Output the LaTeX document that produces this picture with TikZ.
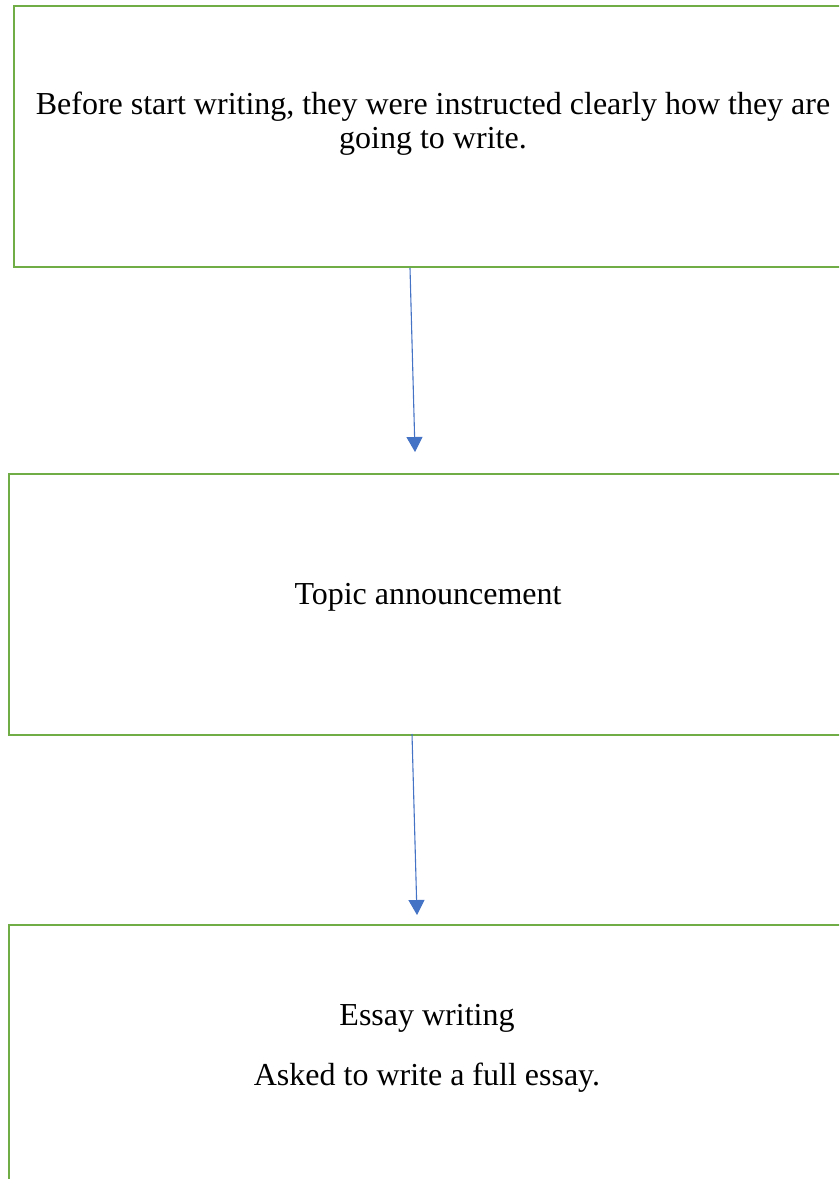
\documentclass[tikz,border=0pt]{standalone}
\usepackage{fontspec}
\setmainfont{Liberation Serif}
\usetikzlibrary{arrows.meta}
\definecolor{boxgreen}{HTML}{70AD47}
\definecolor{arrowblue}{HTML}{4472C4}
\begin{document}
\begin{tikzpicture}[x=1pt,y=-1pt,
  stepbox/.style={draw=boxgreen, line width=2.6pt},
  label/.style={font=\fontsize{32}{34}\selectfont, inner sep=0pt, align=center},
  conn/.style={draw=arrowblue, line width=1.1pt, -{Triangle[width=16pt,length=15pt]}}]
\useasboundingbox (0,0) rectangle (839,1179);
\begin{scope}
\clip (0,0) rectangle (839,1179);
\draw[stepbox] (14,6) rectangle (860,267);
\draw[stepbox] (9,474) rectangle (860,735);
\draw[stepbox] (9,925) rectangle (860,1200);
\end{scope}
\node[label] (t1) at (433,124) {Before start writing, they were instructed clearly how they are\\going to write.};
\node[label] (t2) at (428,597) {Topic announcement};
\node[label] (t3a) at (427,1018) {Essay writing};
\node[label] (t3b) at (427,1078) {Asked to write a full essay.};
\coordinate (a1s) at (410,268);
\coordinate (a1e) at (415,452);
\coordinate (a2s) at (412,734);
\coordinate (a2e) at (417,915);
\draw[conn] (a1s) -- (a1e);
\draw[conn] (a2s) -- (a2e);
\end{tikzpicture}
\end{document}
